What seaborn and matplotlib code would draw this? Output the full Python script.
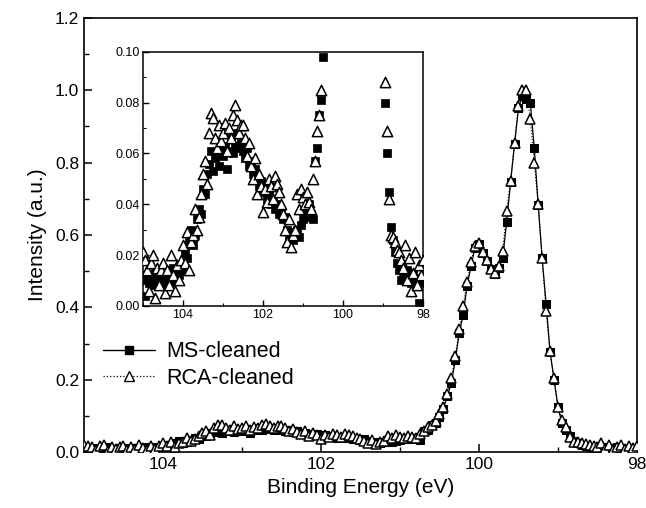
import numpy as np
import pandas as pd
import seaborn as sns
import matplotlib.pyplot as plt
from matplotlib.ticker import MultipleLocator
from matplotlib.lines import Line2D

# binding energy grid, 105 -> 98 eV in 0.05 eV steps (141 points)
energy = np.round(np.linspace(105.0, 98.0, 141), 2)

ms_cleaned = [
    0.010, 0.004, 0.012, 0.009, 0.011, 0.008, 0.013, 0.009, 0.010, 0.012,
    0.009, 0.011, 0.008, 0.012, 0.009, 0.015, 0.010, 0.013, 0.012, 0.014,
    0.016, 0.021, 0.019, 0.025, 0.030, 0.024, 0.028, 0.034, 0.038, 0.036,
    0.046, 0.044, 0.052, 0.056, 0.061, 0.053, 0.058, 0.060, 0.055, 0.062,
    0.059, 0.063, 0.054, 0.061, 0.066, 0.060, 0.063, 0.068, 0.062, 0.064,
    0.061, 0.058, 0.062, 0.055, 0.057, 0.052, 0.054, 0.050, 0.047, 0.049,
    0.045, 0.046, 0.042, 0.044, 0.040, 0.041, 0.038, 0.040, 0.036, 0.037,
    0.034, 0.035, 0.030, 0.027, 0.029, 0.026, 0.028, 0.030, 0.027, 0.032,
    0.034, 0.037, 0.035, 0.040, 0.036, 0.034, 0.057, 0.062, 0.075, 0.081,
    0.098, 0.120, 0.155, 0.190, 0.254, 0.328, 0.380, 0.460, 0.515, 0.565,
    0.575, 0.550, 0.528, 0.505, 0.492, 0.510, 0.535, 0.635, 0.745, 0.850,
    0.950, 0.985, 0.975, 0.965, 0.840, 0.683, 0.535, 0.410, 0.277, 0.200,
    0.125, 0.080, 0.060, 0.045, 0.031, 0.026, 0.021, 0.017, 0.014, 0.010,
    0.012, 0.010, 0.014, 0.011, 0.009, 0.013, 0.010, 0.008, 0.001, 0.011,
    0.009,
]

rca_cleaned = [
    0.021, 0.018, 0.014, 0.006, 0.017, 0.020, 0.003, 0.015, 0.008, 0.014,
    0.017, 0.005, 0.014, 0.008, 0.020, 0.012, 0.006, 0.016, 0.010, 0.018,
    0.024, 0.017, 0.029, 0.014, 0.025, 0.028, 0.038, 0.030, 0.035, 0.044,
    0.052, 0.057, 0.048, 0.068, 0.076, 0.074, 0.066, 0.062, 0.071, 0.065,
    0.068, 0.072, 0.061, 0.070, 0.066, 0.075, 0.079, 0.073, 0.068, 0.071,
    0.071, 0.066, 0.059, 0.064, 0.055, 0.050, 0.058, 0.044, 0.052, 0.047,
    0.037, 0.046, 0.041, 0.050, 0.047, 0.042, 0.051, 0.048, 0.045, 0.040,
    0.036, 0.030, 0.025, 0.034, 0.023, 0.028, 0.030, 0.044, 0.038, 0.046,
    0.043, 0.040, 0.045, 0.041, 0.038, 0.050, 0.057, 0.069, 0.075, 0.085,
    0.106, 0.125, 0.160, 0.205, 0.265, 0.340, 0.405, 0.470, 0.525, 0.570,
    0.578, 0.552, 0.530, 0.505, 0.495, 0.515, 0.555, 0.665, 0.750, 0.855,
    0.955, 1.000, 1.000, 0.920, 0.800, 0.685, 0.535, 0.390, 0.278, 0.204,
    0.125, 0.088, 0.069, 0.042, 0.028, 0.027, 0.025, 0.022, 0.021, 0.018,
    0.015, 0.024, 0.010, 0.019, 0.006, 0.013, 0.021, 0.008, 0.016, 0.012,
    0.018,
]

df = pd.DataFrame({"energy": energy, "ms": ms_cleaned, "rca": rca_cleaned})

sns.set_theme(style="ticks")
plt.rcParams["font.family"] = ["Liberation Sans", "DejaVu Sans"]
for key in ["text.color", "axes.labelcolor", "xtick.color", "ytick.color"]:
    plt.rcParams[key] = "black"

fig = plt.figure(figsize=(6.46, 5.08), dpi=100)
ax = fig.add_axes([0.130, 0.110, 0.856, 0.855])

sns.lineplot(data=df, x="energy", y="rca", ax=ax, color="black", lw=0.8,
             linestyle=":", marker="^", markersize=7.5, markerfacecolor="white",
             markeredgecolor="black", markeredgewidth=1.1, estimator=None,
             sort=False, zorder=3)
sns.lineplot(data=df, x="energy", y="ms", ax=ax, color="black", lw=0.9,
             linestyle="-", marker="s", markersize=6, markerfacecolor="black",
             markeredgecolor="black", estimator=None, sort=False, zorder=2)

ax.set_xlim(105, 98)
ax.set_ylim(0, 1.2)
ax.xaxis.set_major_locator(MultipleLocator(2))
ax.xaxis.set_minor_locator(MultipleLocator(1))
ax.yaxis.set_major_locator(MultipleLocator(0.2))
ax.yaxis.set_minor_locator(MultipleLocator(0.1))
ax.yaxis.set_major_formatter(plt.FormatStrFormatter("%.1f"))
ax.xaxis.set_major_formatter(plt.FormatStrFormatter("%d"))
ax.tick_params(which="both", direction="in", top=False, right=False,
               labelsize=12.5, color="black")
ax.tick_params(which="major", length=6, width=1.1)
ax.tick_params(which="minor", length=3.5, width=1.0)
for s in ax.spines.values():
    s.set_linewidth(1.2)
    s.set_color("black")
ax.set_xlabel("Binding Energy (eV)", fontsize=15)
ax.set_ylabel("Intensity (a.u.)", fontsize=15, labelpad=6)

handles = [
    Line2D([], [], color="black", lw=1.0, ls="-", marker="s", markersize=6),
    Line2D([], [], color="black", lw=0.9, ls=":", marker="^", markersize=6.5,
           markerfacecolor="white"),
]
ax.legend(handles, ["MS-cleaned", "RCA-cleaned"], loc="upper left",
          bbox_to_anchor=(0.0, 0.30), frameon=False, fontsize=15.5,
          handlelength=2.4, handletextpad=0.5, labelspacing=0.25)

# inset zoom on the weak features
ins = fig.add_axes([0.221, 0.398, 0.434, 0.500])
sns.scatterplot(data=df, x="energy", y="rca", ax=ins, marker="^", s=55,
                facecolor="white", edgecolor="black", linewidth=1.1, zorder=3)
sns.scatterplot(data=df, x="energy", y="ms", ax=ins, marker="s", s=40,
                color="black", edgecolor="black", zorder=2)
ins.set_xlim(105, 98)
ins.set_ylim(0, 0.10)
ins.xaxis.set_major_locator(MultipleLocator(2))
ins.xaxis.set_minor_locator(MultipleLocator(1))
ins.yaxis.set_major_locator(MultipleLocator(0.02))
ins.yaxis.set_minor_locator(MultipleLocator(0.01))
ins.yaxis.set_major_formatter(plt.FormatStrFormatter("%.2f"))
ins.xaxis.set_major_formatter(plt.FormatStrFormatter("%d"))
ins.tick_params(which="both", direction="in", top=False, right=False,
                labelsize=9, pad=2)
ins.tick_params(which="major", length=4, width=1.0)
ins.tick_params(which="minor", length=2.5, width=0.8)
for s in ins.spines.values():
    s.set_linewidth(1.1)
    s.set_color("black")
ins.set_xlabel("")
ins.set_ylabel("")

fig.savefig("out.png", dpi=100)
